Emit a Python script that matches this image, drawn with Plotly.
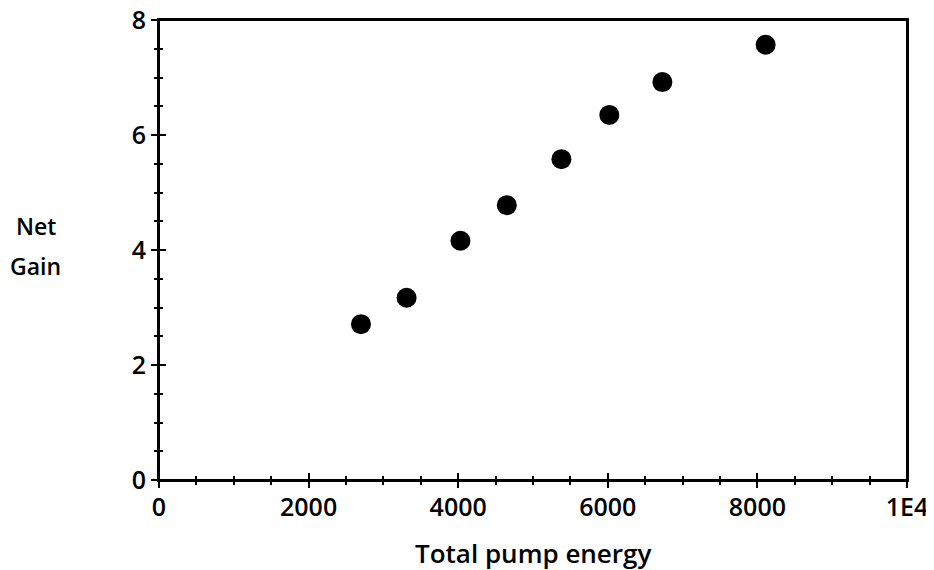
import plotly.graph_objects as go

pump_energy = [2700, 3310, 4030, 4650, 5380, 6020, 6730, 8110]
net_gain = [2.71, 3.17, 4.16, 4.78, 5.58, 6.35, 6.92, 7.57]
x_tickvals = [0, 2000, 4000, 6000, 8000, 10000]
x_ticktext = ["0", "2000", "4000", "6000", "8000", "1E4"]
y_tickvals = [0, 2, 4, 6, 8]

FONT = "Open Sans"
W = 600
fig = go.Figure()
fig.add_trace(go.Scatter(x=pump_energy, y=net_gain, mode="markers",
                         marker=dict(color="black", size=20), showlegend=False,
                         cliponaxis=False))
fig.add_trace(go.Scatter(x=[None], y=[None], xaxis="x2", yaxis="y2", showlegend=False))

common = dict(showgrid=False, zeroline=False, color="black", linecolor="black",
              linewidth=2, tickwidth=2, tickcolor="black", automargin=False)
fig.update_layout(
    width=926, height=562,
    margin=dict(l=151, r=27, t=12, b=90),
    paper_bgcolor="white", plot_bgcolor="white",
    font=dict(family=FONT, size=25, color="black", weight=W),
    xaxis=dict(range=[0, 10000], tickvals=x_tickvals, ticktext=x_ticktext,
               ticks="inside", ticklen=7, showline=True, mirror=True,
               minor=dict(dtick=500, ticks="inside", ticklen=4, tickwidth=2, tickcolor="black"),
               ticklabelstandoff=4, ticklabeloverflow="allow", **common),
    yaxis=dict(range=[0, 8], tickvals=y_tickvals, ticks="inside", ticklen=7,
               showline=True, mirror=True,
               minor=dict(dtick=0.5, ticks="inside", ticklen=4, tickwidth=2, tickcolor="black"),
               ticklabelstandoff=6, ticklabeloverflow="allow", **common),
    xaxis2=dict(range=[0, 10000], overlaying="x", anchor="y2", tickvals=x_tickvals,
                ticks="outside", ticklen=7, showticklabels=False, showline=False,
                minor=dict(dtick=500, ticks="outside", ticklen=4, tickwidth=2, tickcolor="black"),
                **common),
    yaxis2=dict(range=[0, 8], overlaying="y", anchor="x2", tickvals=y_tickvals,
                ticks="outside", ticklen=7, showticklabels=False, showline=False,
                minor=dict(dtick=0.5, ticks="outside", ticklen=4, tickwidth=2, tickcolor="black"),
                **common),
)
fig.add_shape(type="rect", xref="paper", yref="paper", x0=0, x1=1, y0=0, y1=1,
              line=dict(color="black", width=2), layer="above")
fig.add_annotation(text="Total pump energy", xref="paper", yref="paper", x=0.5, y=-0.158,
                   xanchor="center", yanchor="middle", showarrow=False,
                   font=dict(size=26, family=FONT, weight=W))
fig.add_annotation(text="Net", xref="paper", yref="paper", x=-0.1644, y=0.553,
                   xanchor="center", yanchor="middle", showarrow=False,
                   font=dict(size=23, family=FONT, weight=W))
fig.add_annotation(text="Gain", xref="paper", yref="paper", x=-0.1657, y=0.466,
                   xanchor="center", yanchor="middle", showarrow=False,
                   font=dict(size=23, family=FONT, weight=W))
fig.write_html("out.html")
